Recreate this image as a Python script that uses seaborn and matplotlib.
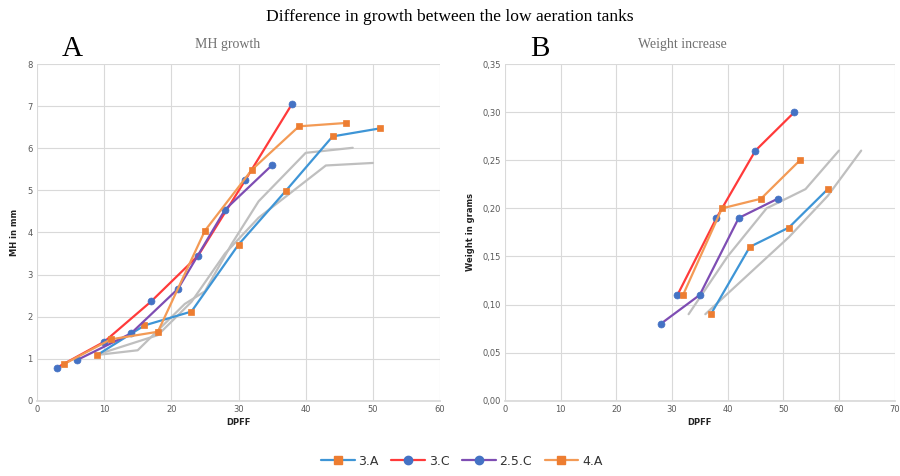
import matplotlib
matplotlib.use("Agg")
import matplotlib.pyplot as plt
import seaborn as sns
from matplotlib.ticker import FuncFormatter, MultipleLocator
from matplotlib.lines import Line2D

sns.set_theme(style="white")
plt.rcParams['font.family'] = ['DejaVu Sans']

# ---------- data: MH growth (panel A) ----------
mh_3A_x = [9, 16, 23, 30, 37, 44, 51]
mh_3A_y = [1.09, 1.79, 2.12, 3.71, 4.98, 6.28, 6.47]
mh_3C_x = [3, 10, 17, 24, 31, 38]
mh_3C_y = [0.79, 1.40, 2.36, 3.45, 5.24, 7.06]
mh_25C_x = [6, 14, 21, 28, 35]
mh_25C_y = [0.97, 1.60, 2.66, 4.54, 5.60]
mh_4A_x = [4, 11, 18, 25, 32, 39, 46]
mh_4A_y = [0.87, 1.46, 1.64, 4.04, 5.49, 6.52, 6.60]
mh_grey1_x = [9, 15, 22, 25, 29, 33, 40, 47]
mh_grey1_y = [1.09, 1.20, 2.30, 2.60, 3.73, 4.74, 5.89, 6.01]
mh_grey2_x = [9, 18, 23, 28, 33, 43, 50]
mh_grey2_y = [1.10, 1.56, 2.35, 3.50, 4.35, 5.59, 5.65]

# ---------- data: weight increase (panel B) ----------
w_3A_x = [37, 44, 51, 58]
w_3A_y = [0.09, 0.16, 0.18, 0.22]
w_3C_x = [31, 38, 45, 52]
w_3C_y = [0.11, 0.19, 0.26, 0.30]
w_25C_x = [28, 35, 42, 49]
w_25C_y = [0.08, 0.11, 0.19, 0.21]
w_4A_x = [32, 39, 46, 53]
w_4A_y = [0.11, 0.20, 0.21, 0.25]
w_grey1_x = [33, 40, 47, 54, 60]
w_grey1_y = [0.09, 0.15, 0.20, 0.22, 0.26]
w_grey2_x = [36, 51, 58, 64]
w_grey2_y = [0.09, 0.17, 0.213, 0.26]

series_names = ["3.A", "3.C", "2.5.C", "4.A"]

BLUE_LINE = "#3E95D6"
RED_LINE = "#FF3A3A"
PURPLE_LINE = "#7E4DB3"
ORANGE_LINE = "#F39A55"
BLUE_MK = "#4472C4"
ORANGE_MK = "#ED7D31"
GREY = "#BFBFBF"

styles = {
    "3.A": dict(color=BLUE_LINE, marker="s", mfc=ORANGE_MK, mec=ORANGE_MK),
    "3.C": dict(color=RED_LINE, marker="o", mfc=BLUE_MK, mec=BLUE_MK),
    "2.5.C": dict(color=PURPLE_LINE, marker="o", mfc=BLUE_MK, mec=BLUE_MK),
    "4.A": dict(color=ORANGE_LINE, marker="s", mfc=ORANGE_MK, mec=ORANGE_MK),
}

fig = plt.figure(figsize=(9, 4.76), dpi=100)
axA = fig.add_axes([0.041, 0.158, 0.448, 0.7075])
axB = fig.add_axes([0.561, 0.158, 0.433, 0.7075])


def draw(ax, grey, series):
    for gx, gy in grey:
        sns.lineplot(x=gx, y=gy, ax=ax, color=GREY, lw=1.6, sort=False,
                     estimator=None)
    for name, (sx, sy) in zip(series_names, series):
        st = styles[name]
        sns.lineplot(x=sx, y=sy, ax=ax, color=st["color"], lw=1.6, sort=False,
                     estimator=None, marker=st["marker"], markersize=5,
                     markerfacecolor=st["mfc"], markeredgecolor=st["mec"],
                     markeredgewidth=0.5)


draw(axA, [(mh_grey1_x, mh_grey1_y), (mh_grey2_x, mh_grey2_y)],
     [(mh_3A_x, mh_3A_y), (mh_3C_x, mh_3C_y), (mh_25C_x, mh_25C_y),
      (mh_4A_x, mh_4A_y)])
draw(axB, [(w_grey1_x, w_grey1_y), (w_grey2_x, w_grey2_y)],
     [(w_3A_x, w_3A_y), (w_3C_x, w_3C_y), (w_25C_x, w_25C_y),
      (w_4A_x, w_4A_y)])

GRID = "#D9D9D9"
TICKC = "#595959"
for ax in (axA, axB):
    ax.grid(True, color=GRID, lw=0.8)
    ax.set_axisbelow(True)
    for s in ax.spines.values():
        s.set_visible(False)
    ax.spines["bottom"].set_visible(True)
    ax.spines["bottom"].set_color(GRID)
    ax.tick_params(axis="both", length=0, labelsize=6, labelcolor=TICKC, pad=3)
    ax.set_xlabel("DPFF", fontsize=6, fontweight="bold", color="#222222", labelpad=3)

axA.set_xlim(0, 60)
axA.set_ylim(0, 8)
axA.xaxis.set_major_locator(MultipleLocator(10))
axA.yaxis.set_major_locator(MultipleLocator(1))
axA.set_ylabel("MH in mm", fontsize=6, fontweight="bold", color="#222222", labelpad=6)

axB.set_xlim(0, 70)
axB.set_ylim(0, 0.35)
axB.xaxis.set_major_locator(MultipleLocator(10))
axB.yaxis.set_major_locator(MultipleLocator(0.05))
axB.yaxis.set_major_formatter(FuncFormatter(lambda v, p: f"{v:.2f}".replace(".", ",")))
axB.set_ylabel("Weight in grams", fontsize=6, fontweight="bold", color="#222222", labelpad=5)

serif = ["Liberation Serif", "DejaVu Serif"]
fig.text(0.5, 0.965, "Difference in growth between the low aeration tanks",
         ha="center", va="center", fontsize=12.6, family=serif, color="black")
fig.text(0.253, 0.907, "MH growth", ha="center", va="center", fontsize=10,
         family=serif, color="#707070")
fig.text(0.758, 0.907, "Weight increase", ha="center", va="center", fontsize=10,
         family=serif, color="#707070")
fig.text(0.08, 0.898, "A", ha="center", va="center", fontsize=21,
         family=serif, color="black")
fig.text(0.6, 0.898, "B", ha="center", va="center", fontsize=21,
         family=serif, color="black")

handles = [Line2D([0], [0], color=styles[n]["color"], lw=1.6,
                  marker=styles[n]["marker"], markersize=6,
                  markerfacecolor=styles[n]["mfc"], markeredgecolor=styles[n]["mec"])
           for n in series_names]
fig.legend(handles, series_names, loc="center", bbox_to_anchor=(0.513, 0.031),
           ncol=4, frameon=False, fontsize=9, handlelength=2.7, columnspacing=1.0,
           handletextpad=0.3, labelcolor="#333333")

fig.savefig("out.png", dpi=100)
